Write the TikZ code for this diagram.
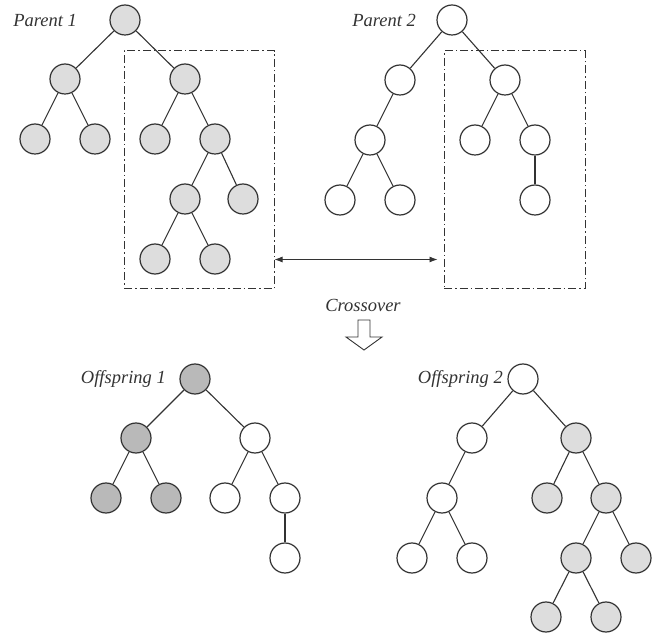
\documentclass[tikz,border=0pt]{standalone}
\usepackage{fontspec}
\setmainfont{Liberation Serif}
\usepackage{tikz}
\usetikzlibrary{arrows.meta, positioning, calc}
\definecolor{linegray}{HTML}{333333}
\definecolor{lightfill}{HTML}{DDDDDD}
\definecolor{darkfill}{HTML}{B9B9B9}
\tikzset{
  vertex/.style={
    circle,
    draw=linegray,
    line width=1.2pt,
    minimum size=30pt,
    inner sep=0pt
  },
  lite/.style={vertex, fill=lightfill},
  dark/.style={vertex, fill=darkfill},
  blank/.style={vertex, fill=white},
  edge/.style={
    draw=linegray,
    line width=1.1pt
  },
  cutbox/.style={
    draw=linegray,
    line width=1pt,
    dash pattern=on 8pt off 3pt on 1.5pt off 3pt
  },
  tag/.style={
    inner sep=0pt,
    font=\fontsize{18.5}{20}\selectfont\itshape,
    text=linegray
  }
}

\begin{document}
\begin{tikzpicture}[x=1pt, y=-1pt, on grid, >={Latex[length=8pt,width=6pt]}]
\useasboundingbox (0,0) rectangle (654,636);

% --- parent 1 ---
\node (p1) [lite] at (125,20) {};
\node (p1l) [lite, below left=59pt and 60pt of p1] {};
\node (p1r) [lite, below right=59pt and 60pt of p1] {};
\node (p1ll) [lite, below left=60pt and 30pt of p1l] {};
\node (p1lr) [lite, below right=60pt and 30pt of p1l] {};
\node (p1rl) [lite, below left=60pt and 30pt of p1r] {};
\node (p1rr) [lite, below right=60pt and 30pt of p1r] {};
\node (p1rrl) [lite, below left=60pt and 30pt of p1rr] {};
\node (p1rrr) [lite, below right=60pt and 28pt of p1rr] {};
\node (p1rrll) [lite, below left=60pt and 30pt of p1rrl] {};
\node (p1rrlr) [lite, below right=60pt and 30pt of p1rrl] {};
\node (lab1) [tag, anchor=east] at (77,20) {Parent 1};

\draw[edge] (p1) -- (p1l) (p1) -- (p1r);
\draw[edge] (p1l) -- (p1ll) (p1l) -- (p1lr);
\draw[edge] (p1r) -- (p1rl) (p1r) -- (p1rr);
\draw[edge] (p1rr) -- (p1rrl) (p1rr) -- (p1rrr);
\draw[edge] (p1rrl) -- (p1rrll) (p1rrl) -- (p1rrlr);

% --- parent 2 ---
\node (p2) [blank] at (452,20) {};
\node (p2l) [blank, below left=60pt and 52pt of p2] {};
\node (p2r) [blank, below right=60pt and 53pt of p2] {};
\node (p2ll) [blank, below left=60pt and 30pt of p2l] {};
\node (p2lll) [blank, below left=60pt and 30pt of p2ll] {};
\node (p2llr) [blank, below right=60pt and 30pt of p2ll] {};
\node (p2rl) [blank, below left=60pt and 30pt of p2r] {};
\node (p2rr) [blank, below right=60pt and 30pt of p2r] {};
\node (p2rrc) [blank, below=60pt of p2rr] {};
\node (lab2) [tag, anchor=east] at (416,20) {Parent 2};

\draw[edge] (p2) -- (p2l) (p2) -- (p2r);
\draw[edge] (p2l) -- (p2ll);
\draw[edge] (p2ll) -- (p2lll) (p2ll) -- (p2llr);
\draw[edge] (p2r) -- (p2rl) (p2r) -- (p2rr);
\draw[edge] (p2rr) -- (p2rrc);

% --- cut boxes and swap ---
\node (box1) [cutbox, minimum width=150pt, minimum height=238pt] at (199,170) {};
\node (box2) [cutbox, minimum width=141pt, minimum height=238pt] at (514.5,170) {};
\draw[<->, line width=0.9pt, draw=linegray] ($(box1.south east)+(0,30pt)$) -- ($(box2.south west)+(-6pt,30pt)$);

\node (cross) [tag] at (363,305) {Crossover};
\draw[draw=linegray, line width=0.9pt, fill=white]
  (358,320) -- (370,320) -- (370,337) -- (382,337) -- (364,350)
  -- (346,337) -- (358,337) -- cycle;

% --- offspring 1 ---
\node (o1) [dark] at (195,379) {};
\node (o1l) [dark, below left=59pt and 59pt of o1] {};
\node (o1r) [blank, below right=59pt and 60pt of o1] {};
\node (o1ll) [dark, below left=60pt and 30pt of o1l] {};
\node (o1lr) [dark, below right=60pt and 30pt of o1l] {};
\node (o1rl) [blank, below left=60pt and 30pt of o1r] {};
\node (o1rr) [blank, below right=60pt and 30pt of o1r] {};
\node (o1rrc) [blank, below=60pt of o1rr] {};
\node (lab3) [tag, anchor=east] at (166,379) {Offspring 1};

\draw[edge] (o1) -- (o1l) (o1) -- (o1r);
\draw[edge] (o1l) -- (o1ll) (o1l) -- (o1lr);
\draw[edge] (o1r) -- (o1rl) (o1r) -- (o1rr);
\draw[edge] (o1rr) -- (o1rrc);

% --- offspring 2 ---
\node (o2) [blank] at (523,379) {};
\node (o2l) [blank, below left=59pt and 51pt of o2] {};
\node (o2r) [lite, below right=59pt and 53pt of o2] {};
\node (o2ll) [blank, below left=60pt and 30pt of o2l] {};
\node (o2lll) [blank, below left=60pt and 30pt of o2ll] {};
\node (o2llr) [blank, below right=60pt and 30pt of o2ll] {};
\node (o2rl) [lite, below left=60pt and 29pt of o2r] {};
\node (o2rr) [lite, below right=60pt and 30pt of o2r] {};
\node (o2rrl) [lite, below left=60pt and 30pt of o2rr] {};
\node (o2rrr) [lite, below right=60pt and 30pt of o2rr] {};
\node (o2rrll) [lite, below left=59pt and 30pt of o2rrl] {};
\node (o2rrlr) [lite, below right=59pt and 30pt of o2rrl] {};
\node (lab4) [tag, anchor=east] at (503,379) {Offspring 2};

\draw[edge] (o2) -- (o2l) (o2) -- (o2r);
\draw[edge] (o2l) -- (o2ll);
\draw[edge] (o2ll) -- (o2lll) (o2ll) -- (o2llr);
\draw[edge] (o2r) -- (o2rl) (o2r) -- (o2rr);
\draw[edge] (o2rr) -- (o2rrl) (o2rr) -- (o2rrr);
\draw[edge] (o2rrl) -- (o2rrll) (o2rrl) -- (o2rrlr);

\end{tikzpicture}
\end{document}
